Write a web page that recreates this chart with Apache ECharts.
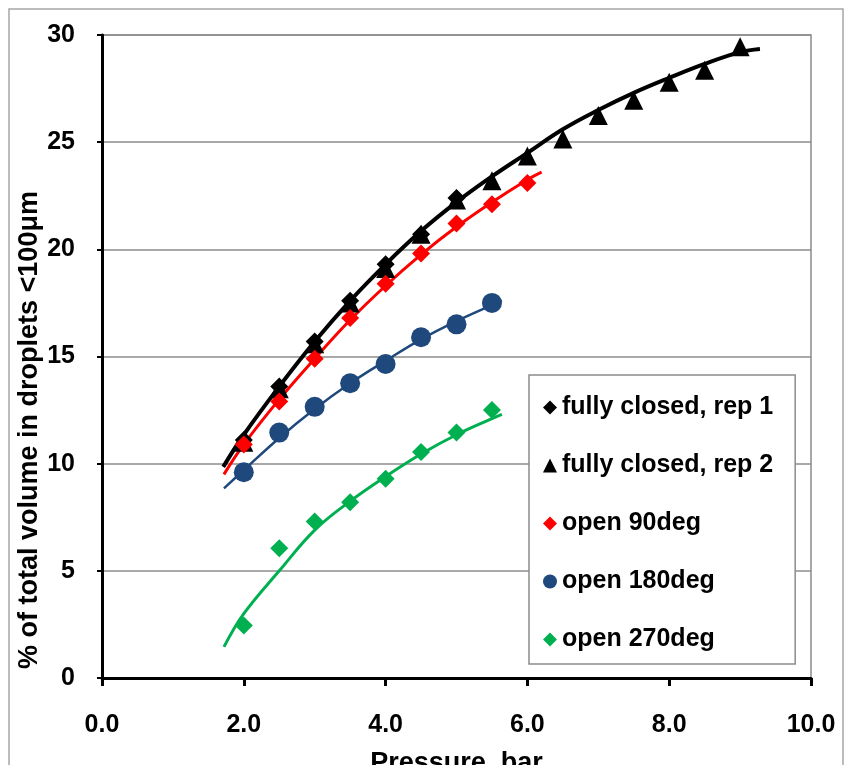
<!DOCTYPE html>
<html>
<head>
<meta charset="utf-8">
<script src="https://cdn.jsdelivr.net/npm/echarts@6/dist/echarts.min.js"></script>
<style>
  html, body { margin: 0; padding: 0; background: #fff; }
  #chart { width: 845px; height: 765px; }
</style>
</head>
<body>
<div id="chart"></div>
<script>
// measured points
var pressure = [2.0, 2.5, 3.0, 3.5, 4.0, 4.5, 5.0, 5.5, 6.0, 6.5, 7.0, 7.5, 8.0, 8.5, 9.0];
var closedRep1 = [11.1, 13.6, 15.7, 17.6, 19.3, 20.7, 22.4];
var closedRep2 = [11.0, 13.5, 15.6, 17.5, 19.1, 20.7, 22.3, 23.2, 24.35, 25.15, 26.25, 26.95, 27.8, 28.35, 29.45];
var open90 = [10.9, 12.9, 14.9, 16.8, 18.4, 19.8, 21.2, 22.1, 23.1];
var open180 = [9.6, 11.45, 12.65, 13.75, 14.65, 15.9, 16.5, 17.5];
var open270 = [2.45, 6.05, 7.3, 8.2, 9.3, 10.55, 11.45, 12.5];

// trend lines
var trendClosedX = [1.71, 2.0, 2.5, 3.0, 3.5, 4.0, 4.5, 5.0, 5.5, 6.0, 6.5, 7.0, 7.5, 8.0, 8.5, 9.0, 9.28];
var trendClosedY = [9.85, 11.35, 13.6, 15.7, 17.6, 19.3, 20.85, 22.2, 23.4, 24.5, 25.6, 26.5, 27.3, 28.0, 28.65, 29.2, 29.35];
var trend90X = [1.72, 2.0, 2.5, 3.0, 3.5, 4.0, 4.5, 5.0, 5.5, 6.0, 6.2];
var trend90Y = [9.5, 10.9, 13.0, 14.9, 16.7, 18.3, 19.75, 21.05, 22.2, 23.25, 23.6];
var trend180X = [1.72, 2.0, 2.5, 3.0, 3.5, 4.0, 4.5, 5.0, 5.5, 5.64];
var trend180Y = [8.85, 9.7, 11.2, 12.55, 13.75, 14.8, 15.8, 16.65, 17.4, 17.6];
var trend270X = [1.72, 2.0, 2.5, 3.0, 3.5, 4.0, 4.5, 5.0, 5.5, 5.64];
var trend270Y = [1.45, 3.0, 5.0, 6.9, 8.25, 9.4, 10.45, 11.35, 12.1, 12.3];

function zip(xs, ys) {
    var res = [];
    for (var i = 0; i < ys.length; i++) res.push([xs[i], ys[i]]);
    return res;
}

var chart = echarts.init(document.getElementById('chart'));
var font = 'Liberation Sans, Arial, sans-serif';

function trend(name, xs, ys, color, width) {
    return {
        name: name,
        type: 'line',
        data: zip(xs, ys),
        smooth: 0.4,
        showSymbol: false,
        symbol: 'none',
        silent: true,
        z: 2,
        lineStyle: { color: color, width: width }
    };
}

function points(name, ys, symbol, size, color) {
    return {
        name: name,
        type: 'scatter',
        data: zip(pressure, ys),
        symbol: symbol,
        symbolSize: size,
        z: 3,
        itemStyle: { color: color, opacity: 1 }
    };
}

chart.setOption({
    animation: false,
    backgroundColor: '#fff',
    grid: {
        left: 102,
        top: 35,
        right: 34,
        bottom: 87,
        outerBoundsMode: 'none',
        containLabel: false,
        show: true,
        borderColor: '#8c8c8c',
        borderWidth: 1.5,
        backgroundColor: 'transparent'
    },
    graphic: [
        {
            type: 'rect',
            shape: { x: 9, y: 9, width: 834, height: 780 },
            style: { fill: 'none', stroke: '#a6a6a6', lineWidth: 1.5 },
            z: -1
        },
        {
            type: 'text',
            x: 30,
            y: 430,
            rotation: Math.PI / 2,
            style: {
                text: '% of total volume in droplets <100μm',
                font: 'bold 27px ' + font,
                fill: '#000',
                align: 'center',
                verticalAlign: 'middle'
            }
        }
    ],
    legend: {
        orient: 'vertical',
        left: 529,
        top: 375,
        padding: [20, 22, 12, 14],
        itemGap: 33,
        itemWidth: 14,
        itemHeight: 14,
        borderColor: '#8c8c8c',
        borderWidth: 1.5,
        backgroundColor: '#fff',
        selectedMode: false,
        textStyle: { fontFamily: font, fontWeight: 'bold', fontSize: 25, color: '#000', lineHeight: 25 },
        data: [
            { name: 'fully closed, rep 1', icon: 'diamond' },
            { name: 'fully closed, rep 2', icon: 'triangle' },
            { name: 'open 90deg', icon: 'diamond' },
            { name: 'open 180deg', icon: 'circle' },
            { name: 'open 270deg', icon: 'diamond' }
        ]
    },
    xAxis: {
        type: 'value',
        min: 0,
        max: 10,
        interval: 2,
        name: 'Pressure, bar',
        nameLocation: 'middle',
        nameGap: 72,
        nameTextStyle: { fontFamily: font, fontWeight: 'bold', fontSize: 27, color: '#000', verticalAlign: 'top' },
        axisLine: { show: true, onZero: false, lineStyle: { color: '#000', width: 3 } },
        axisTick: { show: true, length: 8, lineStyle: { color: '#000', width: 3 } },
        axisLabel: {
            margin: 35,
            fontFamily: font,
            fontWeight: 'bold',
            fontSize: 25,
            color: '#000',
            verticalAlign: 'top',
            formatter: function (v) { return v.toFixed(1); }
        },
        splitLine: { show: false }
    },
    yAxis: {
        type: 'value',
        min: 0,
        max: 30,
        interval: 5,
        axisLine: { show: true, onZero: false, lineStyle: { color: '#000', width: 3 } },
        axisTick: { show: true, length: 5, lineStyle: { color: '#000', width: 2 } },
        axisLabel: {
            margin: 27,
            fontFamily: font,
            fontWeight: 'bold',
            fontSize: 25,
            color: '#000'
        },
        splitLine: { show: true, lineStyle: { color: '#8c8c8c', width: 1.5 } }
    },
    series: [
        trend('trend closed', trendClosedX, trendClosedY, '#000', 4),
        trend('trend 90', trend90X, trend90Y, '#ff0000', 3),
        trend('trend 180', trend180X, trend180Y, '#1f497d', 2.5),
        trend('trend 270', trend270X, trend270Y, '#00b050', 3),
        points('fully closed, rep 1', closedRep1, 'diamond', 18, '#000'),
        points('fully closed, rep 2', closedRep2, 'triangle', 19, '#000'),
        points('open 90deg', open90, 'diamond', 18, '#ff0000'),
        points('open 180deg', open180, 'circle', 20, '#1f497d'),
        points('open 270deg', open270, 'diamond', 18, '#00b050')
    ]
});
</script>
</body>
</html>
